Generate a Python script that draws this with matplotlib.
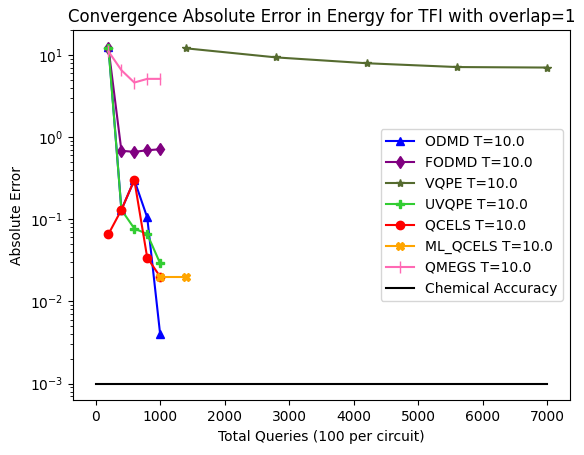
import matplotlib
matplotlib.use('Agg')
import matplotlib.pyplot as plt

q5 = [200, 400, 600, 800, 1000]
odmd = [12.5, 0.13, 0.30, 0.105, 0.004]
fodmd = [12.0, 0.68, 0.66, 0.69, 0.71]
vqpe_x = [1400, 2800, 4200, 5600, 7000]
vqpe = [12.0, 9.3, 7.9, 7.1, 7.0]
uvqpe = [12.0, 0.13, 0.077, 0.066, 0.029]
qcels = [0.066, 0.13, 0.30, 0.034, 0.020]
mlq_x = [1000, 1400]
mlq = [0.020, 0.020]
qmegs = [11.0, 6.5, 4.6, 5.1, 5.1]
chem_x = [0, 7000]
chem = [0.001, 0.001]

fig, ax = plt.subplots(figsize=(5.84, 4.55), dpi=100)
ax.plot(q5, odmd, marker='^', color='blue', label='ODMD T=10.0')
ax.plot(q5, fodmd, marker='d', color='purple', label='FODMD T=10.0')
ax.plot(vqpe_x, vqpe, marker='*', color='darkolivegreen', label='VQPE T=10.0')
ax.plot(q5, uvqpe, marker='P', color='limegreen', label='UVQPE T=10.0')
ax.plot(q5, qcels, marker='o', color='red', label='QCELS T=10.0')
ax.plot(mlq_x, mlq, marker='X', color='orange', label='ML_QCELS T=10.0')
ax.plot(q5, qmegs, marker='|', color='hotpink', markersize=8, label='QMEGS T=10.0')
ax.plot(chem_x, chem, color='black', label='Chemical Accuracy')
ax.set_yscale('log')
ax.set_xlabel('Total Queries (100 per circuit)')
ax.set_ylabel('Absolute Error')
ax.set_title('Convergence Absolute Error in Energy for TFI with overlap=1')
ax.legend(loc='center right')
fig.subplots_adjust(left=0.125, right=0.976, top=0.934, bottom=0.12)
fig.savefig('out.png')
